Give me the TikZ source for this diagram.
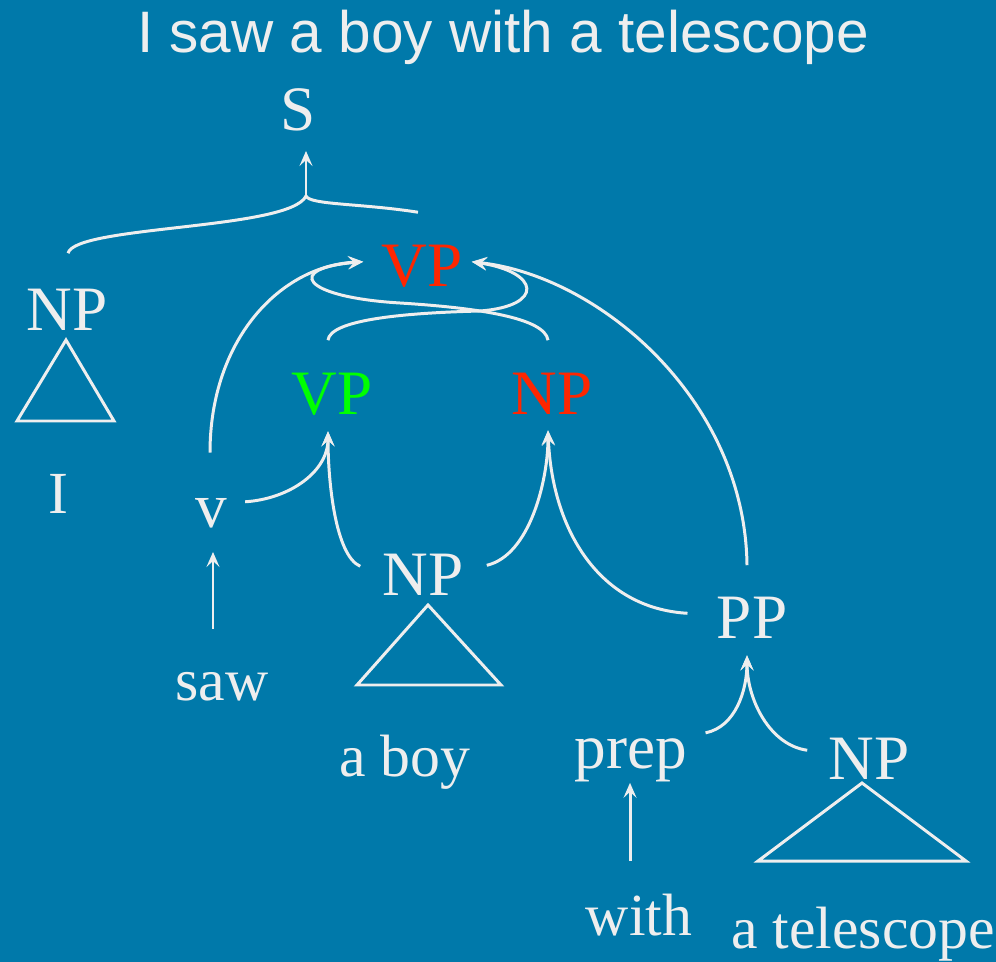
\documentclass[tikz,border=0pt]{standalone}
\usepackage{fontspec}
\setmainfont{Liberation Serif}
\newfontfamily\titlefont{Liberation Sans}
\usetikzlibrary{arrows.meta,calc}
\definecolor{bgblue}{RGB}{0,121,170}
\definecolor{chalk}{RGB}{238,238,238}
\definecolor{catred}{RGB}{255,38,0}
\definecolor{catgreen}{RGB}{0,255,0}
\tikzset{
  >={Stealth[length=3mm,width=2.6mm,inset=1.2mm]},
  cat/.style={anchor=base,inner sep=0pt,text=chalk,
    font=\fontsize{36}{42}\selectfont},
  word/.style={anchor=base,inner sep=0pt,text=chalk,
    font=\fontsize{34}{40}\selectfont},
  hdline/.style={anchor=base,inner sep=0pt,text=chalk,
    font=\titlefont\fontsize{33.3}{39}\selectfont},
  drv/.style={->,draw=chalk,line width=1.7pt},
  joinline/.style={draw=chalk,line width=1.7pt},
  tri/.style={draw=chalk,line width=1.7pt,line join=miter},
}

\begin{document}
\begin{tikzpicture}[x=0.02cm,y=-0.02cm]
  \useasboundingbox (0,0) rectangle (996,962);
  \fill[bgblue] (0,0) rectangle (996,962);
  \node[hdline] (title) at (503,53) {I saw a boy with a telescope};

  % categories
  \node[cat] (s) at (298,131) {S};
  \node[cat,text=catred] (vpr) at (422,287) {VP};
  \node[cat] (npi) at (67,331) {NP};
  \node[cat,text=catgreen] (gvp) at (332,414) {VP};
  \node[cat,text=catred] (rnp) at (552,414) {NP};
  \node[cat] (v) at (211,527) {v};
  \node[cat] (npb) at (423,595) {NP};
  \node[cat] (pp) at (752,638) {PP};
  \node[cat] (prep) at (631,768) {prep};
  \node[cat] (npt) at (869,779) {NP};

  % words
  \node[word] (i) at (58,513) {I};
  \node[word] (saw) at (222,700) {saw};
  \node[word] (boy) at (405,776) {a boy};
  \node[word] (with) at (639,935) {with};
  \node[word] (tel) at (863,948) {a telescope};

  % triangles under the NPs
  \draw[tri] (66,340) -- (17,421) -- (114,421) -- cycle;
  \draw[tri] (428,605) -- (357,685) -- (501,685) -- cycle;
  \draw[tri] (862,783) -- (758,861) -- (966,861) -- cycle;

  % S <- NP VP
  \coordinate (js) at (306,196);
  \draw[joinline] ($(npi.north)+(1,-36)$) .. controls +(7,-28) and +(-16,34) .. (js);
  \draw[joinline] (js) .. controls +(4,9) and +(-58,-9) .. ($(vpr.north)+(-4,-33)$);
  \draw[drv,shorten >=0.38cm] (js) -- (js |- s.south);

  % lexical arrows
  \draw[drv] ($(saw.north)+(-9,-43)$) -- ($(v.south)+(2,24)$);
  \draw[drv] ($(with.north)+(-9,-32)$) -- ($(prep.south)+(-1,1)$);

  % green VP <- v NP
  \draw[drv] ($(v.east)+(18,-11)$) .. controls +(45,-3) and +(0,40) .. ($(gvp.south)+(-4,16)$);
  \draw[drv] ($(npb.west)+(-22,-8)$) .. controls +(-25,-11) and +(0,50) .. ($(gvp.south)+(-4,16)$);

  % red NP <- NP PP
  \draw[drv] ($(npb.east)+(23,-9)$) .. controls +(43,-10) and +(0,50) .. ($(rnp.south)+(-4,16)$);
  \draw[drv] ($(pp.west)+(-29,-4)$) .. controls +(-88,-5) and +(4,100) .. ($(rnp.south)+(-4,16)$);

  % PP <- prep NP
  \draw[drv] ($(prep.north east)+(18,-5)$) .. controls +(30,-6) and +(0,35) .. ($(pp.south)+(-5,17)$);
  \draw[drv] ($(npt.north west)+(-21,13)$) .. controls +(-37,-5) and +(0,45) .. ($(pp.south)+(-5,17)$);

  % red VP <- v NP  and  <- VP PP
  \draw[drv] ($(v.north)+(-1,-45)$) .. controls +(0,-113) and +(-83,4) .. ($(vpr.west)+(-18,-5)$);
  \draw[drv] ($(rnp.north)+(-4,-32)$) .. controls +(-3,-22) and (480,308) .. (400,303)
    .. controls (300,297) and (285,268) .. ($(vpr.west)+(-18,-5)$);
  \draw[drv] ($(pp.north)+(-5,-31)$) .. controls +(-2,-165) and +(128,14) .. ($(vpr.east)+(9,-5)$);
  \draw[drv] ($(gvp.north)+(-4,-32)$) .. controls +(2,-20) and (400,313) .. (480,311)
    .. controls (545,306) and (540,272) .. ($(vpr.east)+(9,-5)$);
\end{tikzpicture}
\end{document}
